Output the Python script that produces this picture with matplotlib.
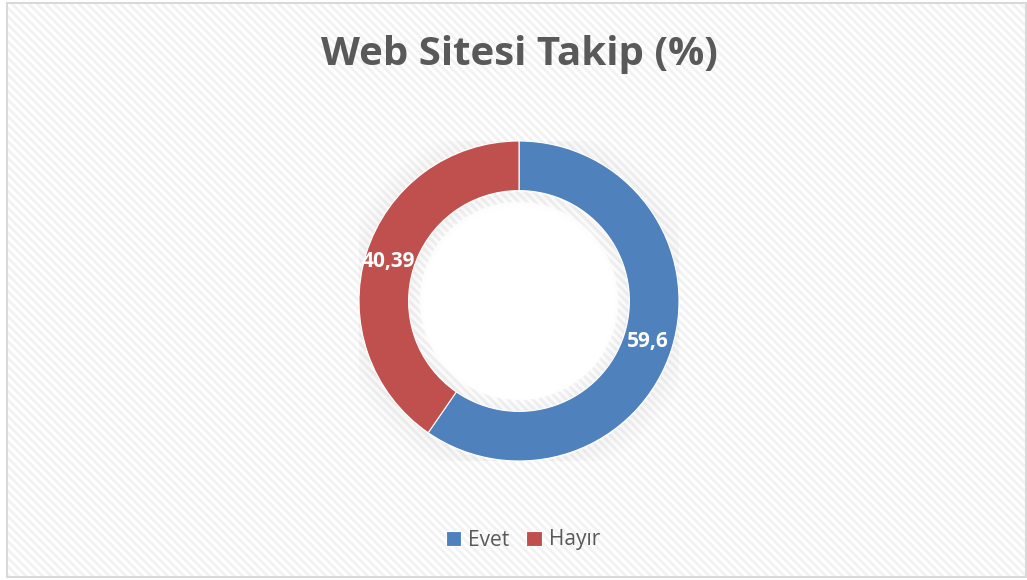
import matplotlib
matplotlib.use("Agg")
import matplotlib.pyplot as plt
from matplotlib.patches import Rectangle, Wedge, Circle

categories = ["Evet", "Hayır"]
values = [59.6, 40.39]
labels = ["59,6", "40,39"]
colors = ["#4F81BD", "#C0504D"]
title = "Web Sitesi Takip (%)"

W, H = 1027, 580
fig = plt.figure(figsize=(W / 100, H / 100), dpi=100)
fig.patch.set_facecolor("white")

# background with diagonal hatch and border
bg = fig.add_axes([0, 0, 1, 1])
bg.set_xlim(0, W)
bg.set_ylim(H, 0)
bg.axis("off")
bg.add_patch(Rectangle((7, 3), W - 8, H - 6, facecolor="white", edgecolor="#D9D9D9",
                       linewidth=1.5, zorder=1))
plt.rcParams["hatch.color"] = "#F0F0F0"
plt.rcParams["hatch.linewidth"] = 2.0
bg.add_patch(Rectangle((8, 4), W - 10, H - 8, facecolor="none", edgecolor="#F2F2F2",
                       hatch="\\\\\\\\", linewidth=0, zorder=2))

# donut
cx, cy, R = 519, 301, 160
ax = fig.add_axes([(cx - R) / W, (H - cy - R) / H, 2 * R / W, 2 * R / H])
ax.axis("off")

wedges, _ = ax.pie(values, colors=colors, startangle=90, counterclock=False,
                   radius=1.0, wedgeprops=dict(width=0.31, edgecolor="white", linewidth=0.8))
for w in wedges:
    w.set_zorder(3)

# soft shadow
for i in range(12):
    r = 1.0 + 0.012 * (i + 1)
    ax.add_patch(Wedge((0.0, -0.01), r, 0, 360, width=0.012, facecolor="#000000",
                       alpha=0.035 * (1 - i / 12), linewidth=0, zorder=1))
for i in range(8):
    r = 0.69 - 0.012 * i
    ax.add_patch(Wedge((0.0, -0.01), r, 0, 360, width=0.012, facecolor="#000000",
                       alpha=0.03 * (1 - i / 8), linewidth=0, zorder=1))
ax.add_patch(Circle((0, 0), 0.62, facecolor="white", edgecolor="none", zorder=0.5))

ax.set_xlim(-1, 1)
ax.set_ylim(-1, 1)
ax.set_aspect("equal")

# data labels
fig.text(648 / W, 1 - 342 / H, labels[0], color="white", fontsize=15, fontweight="bold",
         family="Open Sans", ha="center", va="center", zorder=5)
fig.text(388 / W, 1 - 262 / H, labels[1], color="white", fontsize=15, fontweight="bold",
         family="Open Sans", ha="center", va="center", zorder=5)

# title
fig.text(519 / W, 1 - 55 / H, title, color="#595959", fontsize=29, fontweight="bold",
         family="Open Sans", ha="center", va="center")

# legend
leg = fig.legend(wedges, categories, loc="center", bbox_to_anchor=(523 / W, 1 - 540 / H),
                 ncol=2, frameon=False, handlelength=0.75, handleheight=0.75,
                 handletextpad=0.35, columnspacing=0.8,
                 prop=dict(family="Open Sans", size=15))
for t in leg.get_texts():
    t.set_color("#595959")

fig.savefig("out.png", dpi=100)
